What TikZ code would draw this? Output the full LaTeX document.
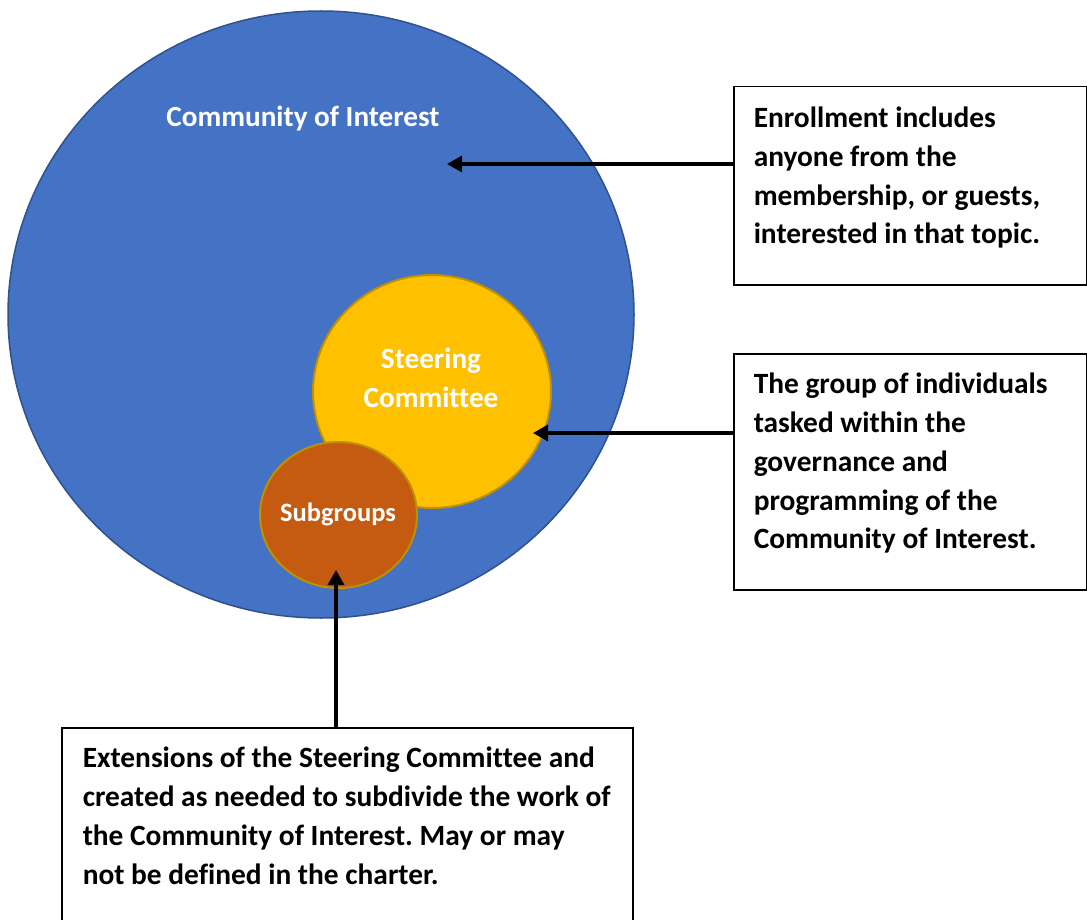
\documentclass[tikz,border=0pt]{standalone}
\usepackage{fontspec}
\setmainfont{Carlito}[Ligatures={NoCommon}]
\usetikzlibrary{shapes.geometric,arrows.meta}
\definecolor{cblue}{HTML}{4472C4}
\definecolor{cblueb}{HTML}{2F528F}
\definecolor{cyel}{HTML}{FFC000}
\definecolor{cgold}{HTML}{BF9000}
\definecolor{corg}{HTML}{C55A11}
\frenchspacing
\newcommand{\boxcontent}[4]{\parbox[c][#2][t]{#1}{\raggedright\leftskip=#3\relax\frenchspacing\fontsize{29.4}{38.75}\selectfont\bfseries #4}}
\tikzset{
  circ/.style={ellipse,inner sep=0pt,line width=1.5pt},
  clabel/.style={text=white,font=\fontsize{29.2}{39}\selectfont\bfseries,text height=18.7pt,text depth=0pt,inner sep=0pt},
  infobox/.style={draw=black,line width=1.5pt,inner sep=0pt,anchor=north west},
  arr/.style={line width=3.4pt,-{Triangle[length=15pt,width=16pt]}}
}
\begin{document}
\begin{tikzpicture}[x=1pt,y=-1pt]
\useasboundingbox (0,0) rectangle (1087,920);
\clip (0,0) rectangle (1087,920);
\fill[white] (0,0) rectangle (1087,920);
% circles
\node[circ,fill=cblue,draw=cblueb,minimum width=626pt,minimum height=607pt] (coi) at (321,314.5) {};
\node[circ,fill=cyel,draw=cgold,line width=2pt,minimum width=238pt,minimum height=233pt] (sc) at (432,391.5) {};
\node[circ,fill=corg,draw=cgold,line width=2pt,minimum width=157pt,minimum height=146pt] (sg) at (338.5,515) {};
% labels
\node[clabel] (coilab) at (303,117) {Community of Interest};
\node[text=white,font=\fontsize{29.2}{39}\selectfont\bfseries,align=center,inner sep=0pt] (sclab) at (431,377.5) {Steering\\Committee};
\node[clabel,font=\fontsize{26.5}{30}\selectfont\bfseries,text height=17pt] (sglab) at (338,513) {Subgroups};
% boxes
\node[infobox] (box1) at (733,86) {\boxcontent{353pt}{198pt}{20pt}{\rule{0pt}{41pt}Enrollment includes\\anyone from the\\membership, or guests,\\interested in that topic.}};
\node[infobox] (box2) at (733,353) {\boxcontent{353pt}{236pt}{20pt}{\rule{0pt}{40pt}The group of individuals\\tasked within the\\governance and\\programming of the\\Community of Interest.}};
\node[infobox] (box3) at (61,727) {\boxcontent{571pt}{230pt}{21pt}{\rule{0pt}{40pt}Extensions of the Steering Committee and\\created as needed to subdivide the work of\\the Community of Interest. May or may\\not be defined in the charter.}};
% arrow tips
\coordinate (tip1) at (447,164);
\coordinate (tip2) at (533,433);
\coordinate (tip3) at (336,570);
\draw[arr] (box1.west |- tip1) -- (tip1);
\draw[arr] (box2.west |- tip2) -- (tip2);
\draw[arr] (tip3 |- box3.north) -- (tip3);
\end{tikzpicture}
\end{document}
